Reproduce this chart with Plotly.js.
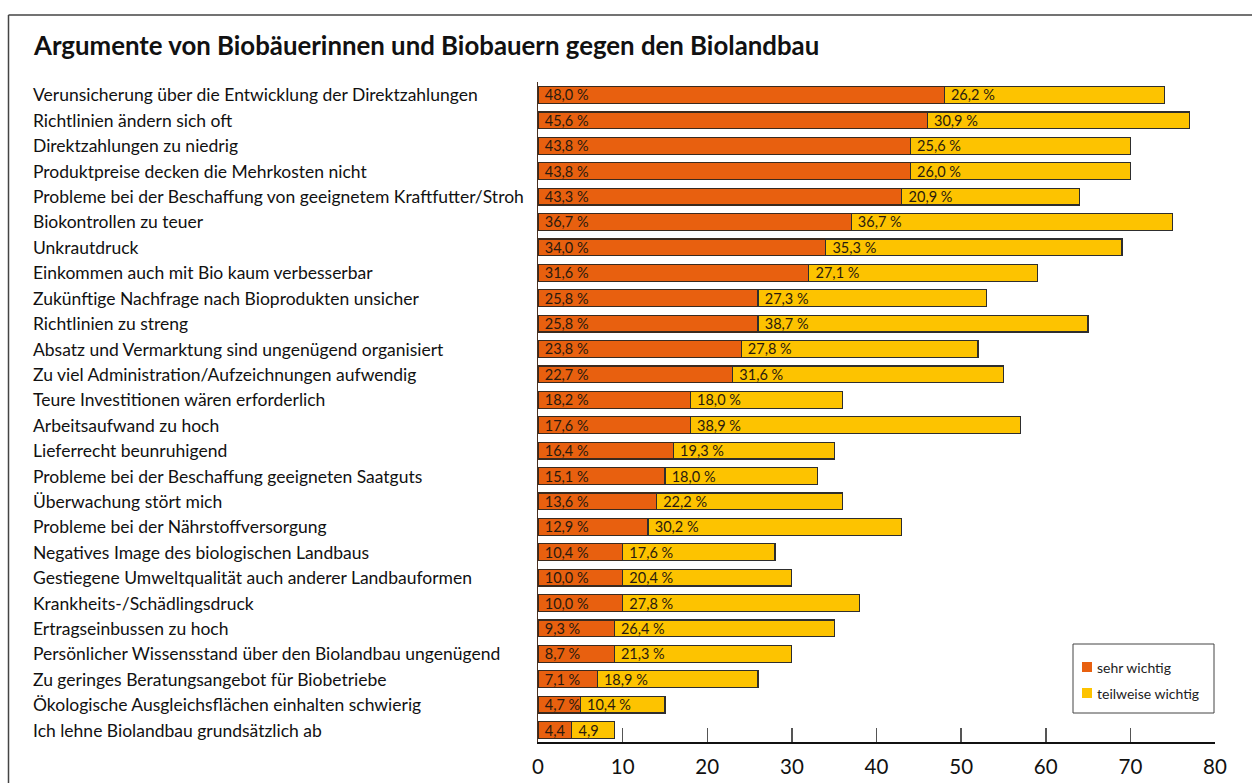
<!DOCTYPE html>
<html>
<head>
<meta charset="utf-8">
<script src="https://cdn.plot.ly/plotly-3.0.1.min.js"></script>
<style>
  html, body { margin: 0; padding: 0; background: #fff; }
  #chart { width: 1252px; height: 783px; }
</style>
</head>
<body>
<div id="chart"></div>
<script>
const categories = [
  "Verunsicherung über die Entwicklung der Direktzahlungen",
  "Richtlinien ändern sich oft",
  "Direktzahlungen zu niedrig",
  "Produktpreise decken die Mehrkosten nicht",
  "Probleme bei der Beschaffung von geeignetem Kraftfutter/Stroh",
  "Biokontrollen zu teuer",
  "Unkrautdruck",
  "Einkommen auch mit Bio kaum verbesserbar",
  "Zukünftige Nachfrage nach Bioprodukten unsicher",
  "Richtlinien zu streng",
  "Absatz und Vermarktung sind ungenügend organisiert",
  "Zu viel Administration/Aufzeichnungen aufwendig",
  "Teure Investitionen wären erforderlich",
  "Arbeitsaufwand zu hoch",
  "Lieferrecht beunruhigend",
  "Probleme bei der Beschaffung geeigneten Saatguts",
  "Überwachung stört mich",
  "Probleme bei der Nährstoffversorgung",
  "Negatives Image des biologischen Landbaus",
  "Gestiegene Umweltqualität auch anderer Landbauformen",
  "Krankheits-/Schädlingsdruck",
  "Ertragseinbussen zu hoch",
  "Persönlicher Wissensstand über den Biolandbau ungenügend",
  "Zu geringes Beratungsangebot für Biobetriebe",
  "Ökologische Ausgleichsflächen einhalten schwierig",
  "Ich lehne Biolandbau grundsätzlich ab"
];

// bar lengths as drawn in the picture
const sehrWichtigBar = [48,46,44,44,43,37,34,32,26,26,24,23,18,18,16,15,14,13,10,10,10,9,9,7,5,4];
const teilweiseWichtigBar = [26,31,26,26,21,38,35,27,27,39,28,32,18,39,19,18,22,30,18,20,28,26,21,19,10,5];

// printed labels
const sehrWichtigLabel = ["48,0 %","45,6 %","43,8 %","43,8 %","43,3 %","36,7 %","34,0 %","31,6 %","25,8 %","25,8 %","23,8 %","22,7 %","18,2 %","17,6 %","16,4 %","15,1 %","13,6 %","12,9 %","10,4 %","10,0 %","10,0 %","9,3 %","8,7 %","7,1 %","4,7 %","4,4"];
const teilweiseWichtigLabel = ["26,2 %","30,9 %","25,6 %","26,0 %","20,9 %","36,7 %","35,3 %","27,1 %","27,3 %","38,7 %","27,8 %","31,6 %","18,0 %","38,9 %","19,3 %","18,0 %","22,2 %","30,2 %","17,6 %","20,4 %","27,8 %","26,4 %","21,3 %","18,9 %","10,4 %","4,9"];

const seriesNames = ["sehr wichtig", "teilweise wichtig"];
const seriesColors = ["#E8600F", "#FDC300"];

const xTicks = [0,10,20,30,40,50,60,70,80];

const FONT = "Lato, 'Noto Sans', sans-serif";

const barCommon = {
  type: 'bar',
  orientation: 'h',
  y: categories,
  textposition: 'inside',
  insidetextanchor: 'start',
  constraintext: 'none',
  cliponaxis: false,
  textfont: {family: FONT, size: 14.5, color: '#2a1a0e'},
  hoverinfo: 'x+y',
  showlegend: false
};

const traces = [
  Object.assign({}, barCommon, {
    name: seriesNames[0],
    x: sehrWichtigBar,
    text: sehrWichtigLabel.map(t => '\u00a0' + t),
    marker: {color: seriesColors[0], line: {color: '#3a2a1e', width: 1.2}}
  }),
  Object.assign({}, barCommon, {
    name: seriesNames[1],
    x: teilweiseWichtigBar,
    text: teilweiseWichtigLabel.map(t => '\u00a0' + t),
    marker: {color: seriesColors[1], line: {color: '#2e2e2e', width: 1.2}}
  })
];

// plot area: x 538..1215, y 82..742
const L = 538, R = 1252 - 1215, T = 82, B = 783 - 742;
const plotW = 1252 - L - R, plotH = 783 - T - B;
const px2paperX = p => (p - L) / plotW;
const px2paperY = p => (783 - B - p) / plotH;

const annotations = categories.map(c => ({
  xref: 'paper', yref: 'y',
  x: px2paperX(31), y: c,
  xanchor: 'left', yanchor: 'middle',
  text: c, showarrow: false,
  font: {family: FONT, size: 17.5, color: '#111'}
}));

annotations.push({
  xref: 'paper', yref: 'paper',
  x: px2paperX(31), y: px2paperY(45),
  xanchor: 'left', yanchor: 'middle',
  text: '<b>Argumente von Biobäuerinnen und Biobauern gegen den Biolandbau</b>',
  showarrow: false,
  font: {family: FONT, size: 25.8, color: '#111'}
});

// legend (drawn as box, swatches and labels)
const legendItemsY = [667, 693];
seriesNames.forEach((n, i) => {
  annotations.push({
    xref: 'paper', yref: 'paper',
    x: px2paperX(1095), y: px2paperY(legendItemsY[i]),
    xanchor: 'left', yanchor: 'middle',
    text: n, showarrow: false,
    font: {family: FONT, size: 14, color: '#222'}
  });
});

const shapes = [
  {type: 'line', xref: 'paper', yref: 'paper',
   x0: px2paperX(8.5), x1: px2paperX(8.5), y0: px2paperY(15), y1: px2paperY(800),
   line: {color: '#444', width: 1.5}},
  {type: 'line', xref: 'paper', yref: 'paper',
   x0: px2paperX(8.5), x1: px2paperX(1270), y0: px2paperY(15), y1: px2paperY(15),
   line: {color: '#444', width: 1.5}},
  {type: 'rect', xref: 'paper', yref: 'paper',
   x0: px2paperX(1073), x1: px2paperX(1214), y0: px2paperY(644), y1: px2paperY(713),
   fillcolor: '#fff', line: {color: '#444', width: 1}, layer: 'above'}
];
seriesColors.forEach((c, i) => {
  shapes.push({type: 'rect', xref: 'paper', yref: 'paper',
    x0: px2paperX(1082), x1: px2paperX(1092),
    y0: px2paperY(legendItemsY[i] - 5), y1: px2paperY(legendItemsY[i] + 5),
    fillcolor: c, line: {width: 0}, layer: 'above'});
});

const layout = {
  width: 1252, height: 783,
  margin: {l: L, r: R, t: T, b: B, pad: 0},
  paper_bgcolor: '#fff', plot_bgcolor: '#fff',
  barmode: 'stack',
  bargap: 0.34,
  showlegend: false,
  xaxis: {
    range: [0, 80],
    tickvals: xTicks,
    ticktext: xTicks.map(String),
    ticks: 'inside', ticklen: 14, tickwidth: 1.5, tickcolor: '#555',
    showline: true, linecolor: '#111', linewidth: 1.5,
    showgrid: false, zeroline: false,
    tickfont: {family: FONT, size: 20.5, color: '#111'},
    ticklabelstandoff: 6,
    fixedrange: true
  },
  yaxis: {
    type: 'category',
    categoryarray: categories,
    range: [25.47, -0.51],
    autorange: false,
    showticklabels: false,
    ticks: '',
    showline: true, linecolor: '#4a3020', linewidth: 1.5,
    showgrid: false, zeroline: false,
    fixedrange: true
  },
  shapes: shapes,
  annotations: annotations
};

Plotly.newPlot('chart', traces, layout, {displayModeBar: false, staticPlot: true});
</script>
</body>
</html>
